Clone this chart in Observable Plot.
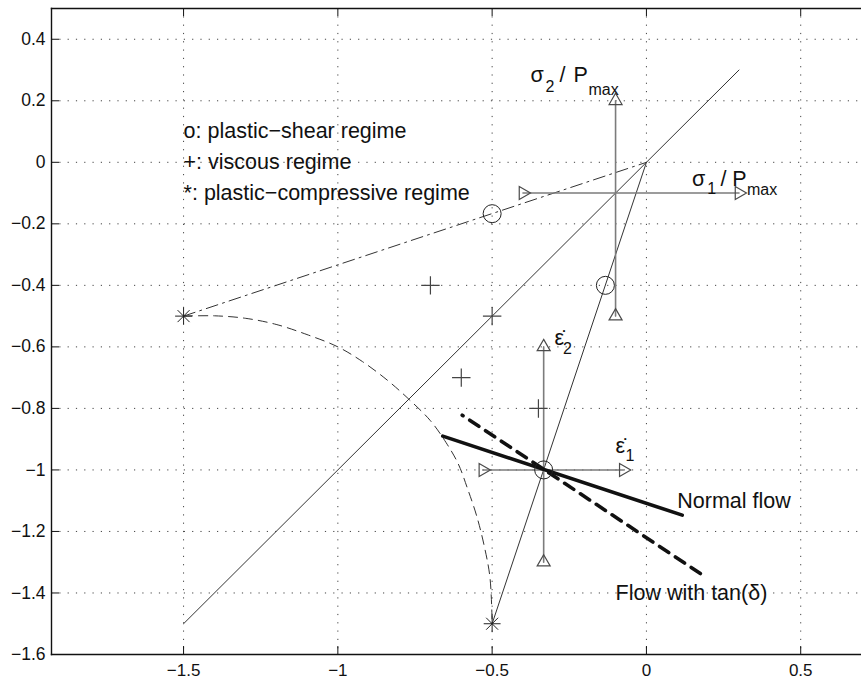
<!DOCTYPE html>
<html><head><meta charset="utf-8">
<script src="https://cdn.jsdelivr.net/npm/d3@7"></script>
<script src="https://cdn.jsdelivr.net/npm/@observablehq/plot@0.6"></script>
<style>html,body{margin:0;padding:0;background:#fff;} svg{display:block}</style>
</head><body><div id="chart"></div>
<script>
// ---- ticks ----
const xTicks = [-1.5, -1, -0.5, 0, 0.5];
const xTickLabels = ["−1.5", "−1", "−0.5", "0", "0.5"];
const yTicks = [-1.6, -1.4, -1.2, -1, -0.8, -0.6, -0.4, -0.2, 0, 0.2, 0.4];
const yTickLabels = ["−1.6", "−1.4", "−1.2", "−1", "−0.8", "−0.6", "−0.4", "−0.2", "0", "0.2", "0.4"];

// ---- lines ----
const diagonalX = [-1.5, 0.3], diagonalY = [-1.5, 0.3];
const steepX = [0, -0.5], steepY = [0, -1.5];
const shearLineX = [-1.5, 0], shearLineY = [-0.5, 0];
const capX = [-1.5, -1.4, -1.3, -1.2, -1.1, -1.0, -0.92, -0.84, -0.77, -0.70, -0.65, -0.61, -0.58, -0.55, -0.525, -0.507, -0.5];
const capY = [-0.5, -0.499, -0.507, -0.527, -0.56, -0.60, -0.648, -0.708, -0.77, -0.84, -0.91, -0.98, -1.06, -1.15, -1.25, -1.35, -1.5];
const normalFlowX = [-0.66, 0.116], normalFlowY = [-0.89, -1.147];
const tanFlowX = [-0.597, 0.175], tanFlowY = [-0.822, -1.337];

// ---- little stress / strain-rate axes ----
const sigmaHX = [-0.4, 0.3], sigmaHY = [-0.1, -0.1];
const sigmaVX = [-0.1, -0.1], sigmaVY = [0.2, -0.5];
const epsHX = [-0.53, -0.075], epsHY = [-1, -1];
const epsVX = [-0.333, -0.333], epsVY = [-0.6, -1.3];

// ---- regime markers ----
const shearX = [-0.5, -0.133, -0.333], shearY = [-0.167, -0.4, -1];
const viscousX = [-0.7, -0.5, -0.6, -0.35], viscousY = [-0.4, -0.5, -0.7, -0.8];
const compressiveX = [-1.5, -0.5], compressiveY = [-0.5, -1.5];

// ---- texts ----
const legendLines = ["o: plastic−shear regime", "+: viscous regime", "*: plastic−compressive regime"];
const legendX = [-1.5, -1.5, -1.5], legendY = [0.1, 0, -0.1];
const mainText = ["σ", "/", "P", "σ", "/", "P", "ε\u0307", "ε\u0307", "Normal flow", "Flow with tan(δ)"];
const mainX = [-0.376, -0.282, -0.236, 0.148, 0.240, 0.278, -0.298, -0.100, 0.1, -0.1];
const mainY = [0.283, 0.283, 0.283, -0.053, -0.053, -0.053, -0.573, -0.923, -1.1, -1.4];
const subText = ["2", "max", "1", "max", "2", "1"];
const subX = [-0.327, -0.188, 0.197, 0.326, -0.270, -0.068];
const subY = [0.244, 0.234, -0.086, -0.091, -0.606, -0.953];

const pts = (xs, ys) => xs.map((x, i) => ({x, y: ys[i]}));
const W = 861, H = 679, mL = 51, mR = 0, mT = 8, mB = 25;
const innerW = W - mL - mR, innerH = H - mT - mB;
const lineCol = "#333";
const grayAxis = "#7c7c7c";
const triCol = "#4a4a4a";
const font = "'Liberation Sans', Arial, Helvetica, sans-serif";

const plot = Plot.plot({
  width: W, height: H,
  marginLeft: mL, marginRight: mR, marginTop: mT, marginBottom: mB,
  x: {domain: [-1.928, 0.697]},
  y: {domain: [-1.6, 0.5]},
  style: {fontFamily: font, background: "#fff", color: "#111"},
  marks: [
    Plot.gridX(xTicks, {stroke: "#444", strokeOpacity: 1, strokeWidth: 1, strokeDasharray: "1.2,7.1"}),
    Plot.gridY(yTicks, {stroke: "#444", strokeOpacity: 1, strokeWidth: 1, strokeDasharray: "1.2,7.1"}),

    Plot.line(pts(diagonalX, diagonalY), {x: "x", y: "y", stroke: lineCol, strokeWidth: 1}),
    Plot.line(pts(steepX, steepY), {x: "x", y: "y", stroke: lineCol, strokeWidth: 1}),
    Plot.line(pts(shearLineX, shearLineY), {x: "x", y: "y", stroke: lineCol, strokeWidth: 1, strokeDasharray: "12,5,2,5"}),
    Plot.line(pts(capX, capY), {x: "x", y: "y", curve: "catmull-rom", stroke: lineCol, strokeWidth: 1, strokeDasharray: "9,6"}),

    Plot.line(pts(sigmaHX, sigmaHY), {x: "x", y: "y", stroke: grayAxis, strokeWidth: 1.6}),
    Plot.line(pts(sigmaVX, sigmaVY), {x: "x", y: "y", stroke: grayAxis, strokeWidth: 1.6}),
    Plot.line(pts(epsHX, epsHY), {x: "x", y: "y", stroke: grayAxis, strokeWidth: 1.6}),
    Plot.line(pts(epsVX, epsVY), {x: "x", y: "y", stroke: grayAxis, strokeWidth: 1.6}),
    Plot.dot(pts(sigmaVX, sigmaVY), {x: "x", y: "y", symbol: "triangle2", r: 6.2, stroke: triCol, strokeWidth: 1.2, fill: "none"}),
    Plot.dot(pts(epsVX, epsVY), {x: "x", y: "y", symbol: "triangle2", r: 6.2, stroke: triCol, strokeWidth: 1.2, fill: "none"}),
    Plot.dot(pts(sigmaHX, sigmaHY), {x: "x", y: "y", symbol: "triangle2", rotate: 90, r: 6.2, stroke: triCol, strokeWidth: 1.2, fill: "none"}),
    Plot.dot(pts(epsHX, epsHY), {x: "x", y: "y", symbol: "triangle2", rotate: 90, r: 6.2, stroke: triCol, strokeWidth: 1.2, fill: "none"}),

    Plot.line(pts(normalFlowX, normalFlowY), {x: "x", y: "y", stroke: "#111", strokeWidth: 3.6}),
    Plot.line(pts(tanFlowX, tanFlowY), {x: "x", y: "y", stroke: "#111", strokeWidth: 3.6, strokeDasharray: "11,8", strokeDashoffset: 10}),

    Plot.dot(pts(shearX, shearY), {x: "x", y: "y", symbol: "circle", r: 9, stroke: "#222", strokeWidth: 1, fill: "none"}),
    Plot.dot(pts(viscousX, viscousY), {x: "x", y: "y", symbol: "plus", r: 6, stroke: "#444", strokeWidth: 1.2}),
    Plot.dot(pts(compressiveX, compressiveY), {x: "x", y: "y", symbol: "plus", r: 5.5, stroke: "#222", strokeWidth: 1}),
    Plot.dot(pts(compressiveX, compressiveY), {x: "x", y: "y", symbol: "times", r: 5.5, stroke: "#222", strokeWidth: 1}),

    Plot.text(legendLines, {x: (d, i) => legendX[i], y: (d, i) => legendY[i], text: d => d, textAnchor: "start", fontSize: 21.5, fill: "#111"}),
    Plot.text(mainText, {x: (d, i) => mainX[i], y: (d, i) => mainY[i], text: d => d, textAnchor: "start", fontSize: 21.5, fill: "#111"}),
    Plot.text(subText, {x: (d, i) => subX[i], y: (d, i) => subY[i], text: d => d, textAnchor: "start", fontSize: 16, fill: "#111"}),

    Plot.tickX(xTicks, {x: d => d, insetTop: innerH - 8, stroke: "#111", strokeWidth: 1}),
    Plot.tickX(xTicks, {x: d => d, insetBottom: innerH - 8, stroke: "#111", strokeWidth: 1}),
    Plot.tickY(yTicks, {y: d => d, insetRight: innerW - 8, stroke: "#111", strokeWidth: 1}),
    Plot.axisX(xTicks, {anchor: "bottom", tickSize: 0, tickPadding: 9, fontSize: 17, label: null,
      tickFormat: d => xTickLabels[xTicks.indexOf(d)]}),
    Plot.axisY(yTicks, {anchor: "left", tickSize: 0, tickPadding: 6, fontSize: 17.5, label: null,
      tickFormat: d => yTickLabels[yTicks.indexOf(d)]}),
    Plot.frame({anchor: "top", stroke: "#111", strokeWidth: 1.4}),
    Plot.frame({anchor: "left", stroke: "#111", strokeWidth: 1.4}),
    Plot.frame({anchor: "bottom", stroke: "#111", strokeWidth: 1.4})
  ]
});
document.getElementById("chart").appendChild(plot);
</script>
</body></html>
